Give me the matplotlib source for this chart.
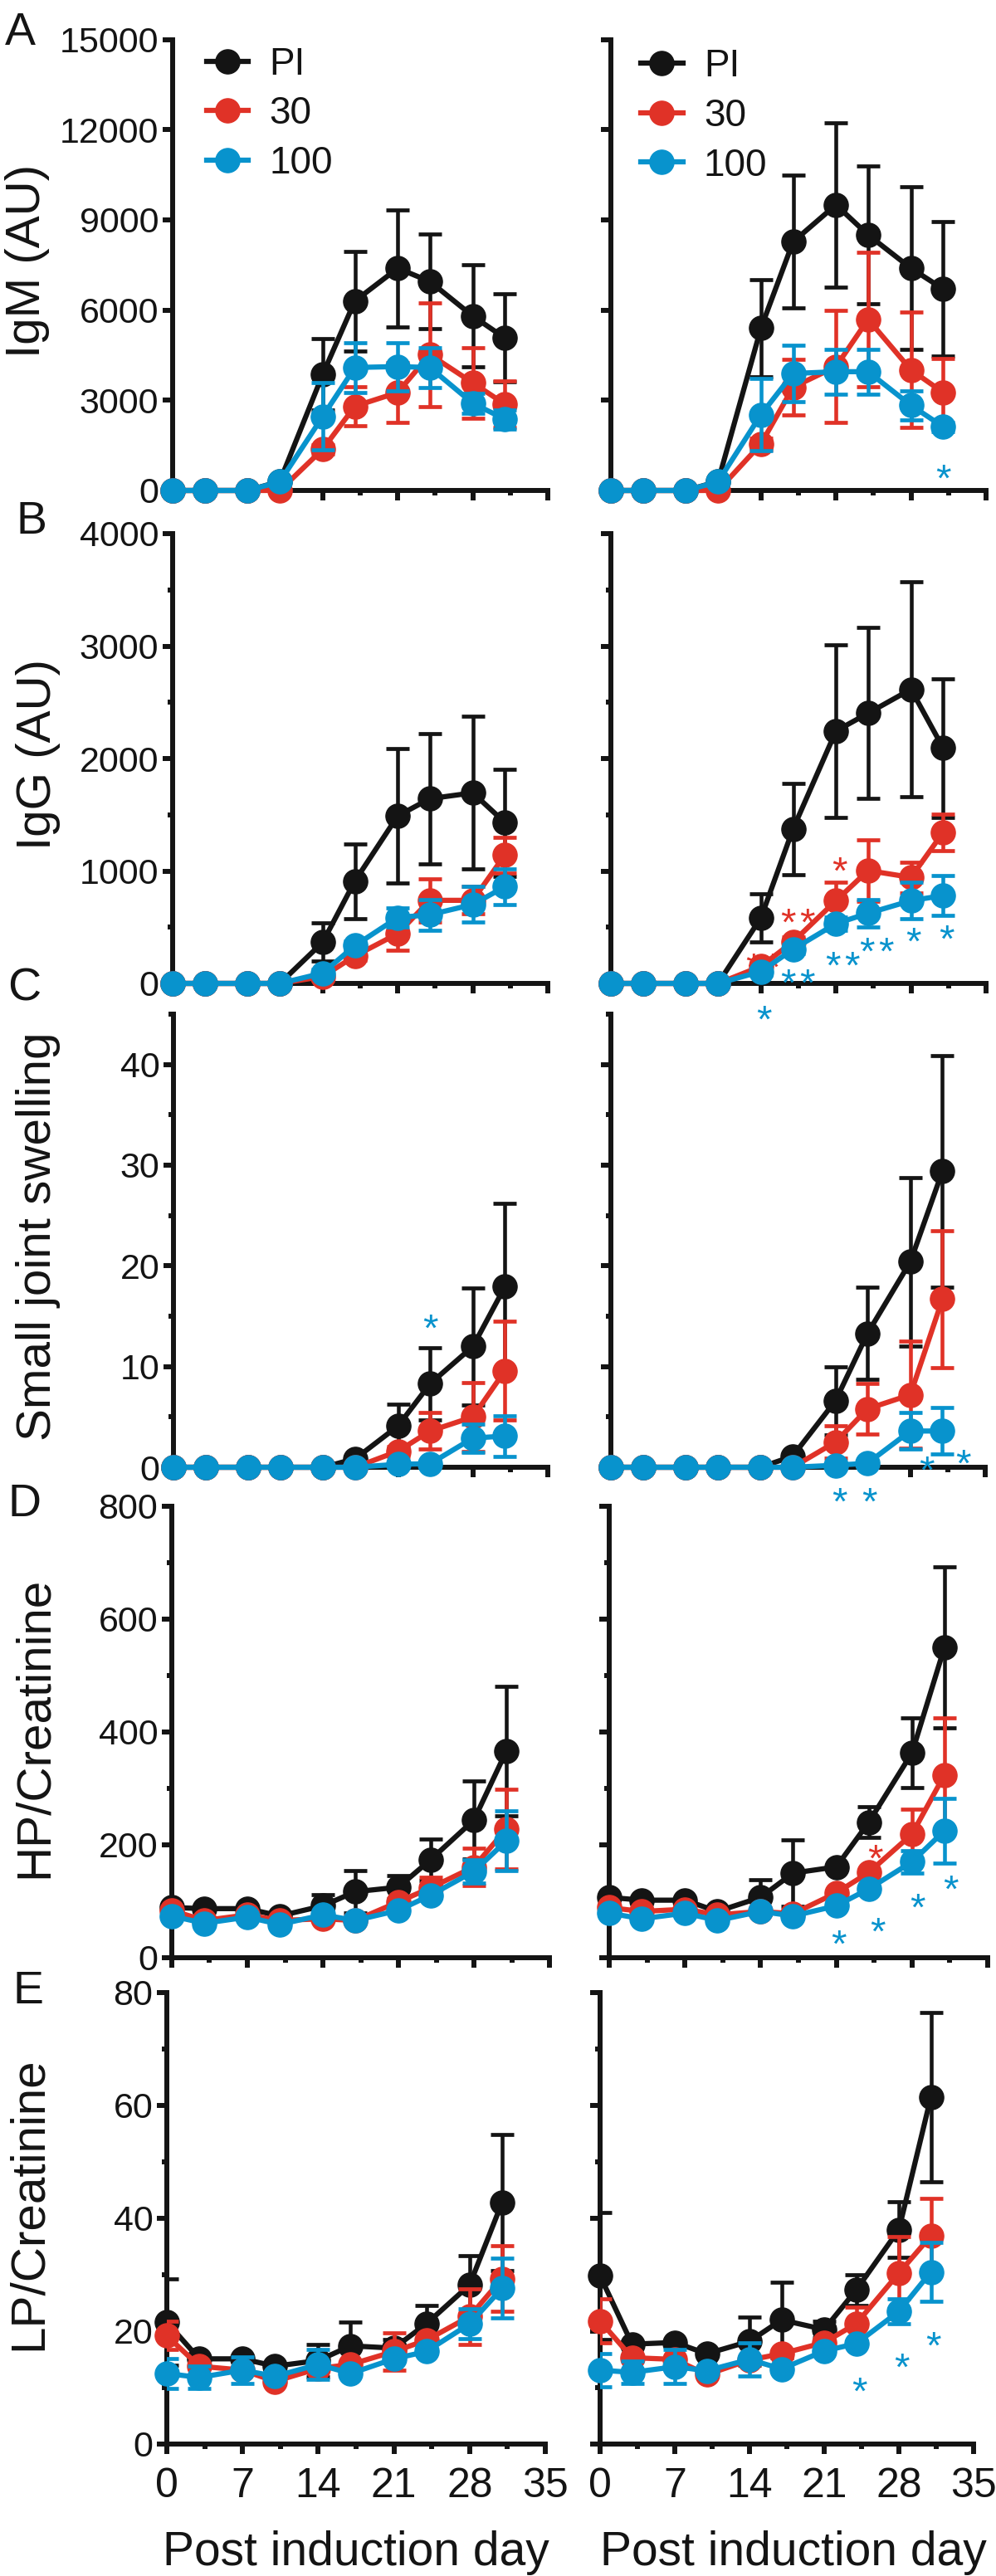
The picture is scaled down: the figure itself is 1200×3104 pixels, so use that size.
import numpy as np
import matplotlib.pyplot as plt
from matplotlib.ticker import MultipleLocator

plt.rcParams['font.family'] = ['Liberation Sans', 'DejaVu Sans']

ink = '#141414'
days = [0, 3, 7, 10, 14, 17, 21, 24, 28, 31]
groups = ['PI', '30', '100']
colors = [ink, '#E03227', '#0893CD']

# each list holds the PI, 30 and 100 series (mean, then SEM)
igm_left_mean = [[0, 0, 0, 300, 3860, 6300, 7390, 6950, 5800, 5070],
                 [0, 0, 0, 0, 1370, 2800, 3260, 4520, 3580, 2870],
                 [0, 0, 0, 290, 2460, 4090, 4120, 4090, 2900, 2370]]
igm_left_err = [[0, 0, 0, 0, 1180, 1660, 1940, 1580, 1700, 1460],
                [0, 0, 0, 0, 150, 640, 1000, 1720, 1170, 760],
                [0, 0, 0, 0, 1120, 830, 800, 660, 330, 320]]
igm_right_mean = [[0, 0, 0, 300, 5400, 8270, 9500, 8500, 7390, 6700],
                  [0, 0, 0, 0, 1545, 3435, 4120, 5690, 4010, 3260],
                  [0, 0, 0, 290, 2520, 3890, 3950, 3950, 2830, 2120]]
igm_right_err = [[0, 0, 0, 0, 1620, 2210, 2730, 2300, 2710, 2230],
                 [0, 0, 0, 0, 200, 915, 1870, 2230, 1910, 1130],
                 [0, 0, 0, 0, 1200, 950, 750, 750, 480, 150]]

igg_left_mean = [[0, 0, 0, 0, 366, 910, 1490, 1643, 1695, 1431],
                 [0, 0, 0, 0, 61, 244, 443, 739, 739, 1143],
                 [0, 0, 0, 0, 92, 336, 586, 611, 702, 860]]
igg_left_err = [[0, 0, 0, 0, 170, 333, 595, 580, 680, 476],
                [0, 0, 0, 0, 30, 40, 150, 192, 122, 158],
                [0, 0, 0, 0, 30, 40, 86, 137, 159, 158]]
igg_right_mean = [[0, 0, 0, 0, 584, 1375, 2245, 2403, 2616, 2093],
                  [0, 0, 0, 0, 152, 371, 736, 1004, 943, 1344],
                  [0, 0, 0, 0, 106, 304, 532, 624, 736, 782]]
igg_right_err = [[0, 0, 0, 0, 213, 405, 766, 760, 958, 614],
                 [0, 0, 0, 0, 30, 40, 167, 274, 137, 162],
                 [0, 0, 0, 0, 30, 40, 60, 121, 161, 176]]

swell_left_mean = [[0, 0, 0, 0, 0, 0.85, 4.1, 8.3, 12.0, 17.95],
                   [0, 0, 0, 0, 0, 0, 1.6, 3.6, 5.0, 9.6],
                   [0, 0, 0, 0, 0, 0, 0.3, 0.35, 2.9, 3.1]]
swell_left_err = [[0, 0, 0, 0, 0, 0, 2.2, 3.6, 5.8, 8.25],
                  [0, 0, 0, 0, 0, 0, 0.5, 1.8, 3.4, 4.9],
                  [0, 0, 0, 0, 0, 0, 0, 0, 1.4, 2.0]]
swell_right_mean = [[0, 0, 0, 0, 0, 1.1, 6.6, 13.3, 20.4, 29.4],
                    [0, 0, 0, 0, 0, 0, 2.5, 5.8, 7.2, 16.7],
                    [0, 0, 0, 0, 0, 0, 0.2, 0.4, 3.6, 3.6]]
swell_right_err = [[0, 0, 0, 0, 0, 0, 3.4, 4.6, 8.4, 11.5],
                   [0, 0, 0, 0, 0, 0, 1.6, 2.5, 5.3, 6.8],
                   [0, 0, 0, 0, 0, 0, 0, 0, 1.8, 2.3]]

hp_left_mean = [[89, 87, 87, 74, 92, 117, 125, 174, 244, 366],
                [84, 66, 76, 66, 69, 66, 99, 124, 161, 228],
                [74, 61, 72, 59, 76, 66, 84, 111, 153, 207]]
hp_left_err = [[0, 0, 0, 0, 20, 38, 20, 37, 69, 115],
               [0, 0, 0, 0, 0, 0, 0, 18, 33, 71],
               [0, 0, 0, 0, 0, 0, 0, 0, 21, 53]]
hp_right_mean = [[107, 102, 102, 82, 107, 150, 161, 240, 363, 550],
                 [89, 82, 86, 76, 82, 78, 115, 151, 219, 324],
                 [79, 69, 79, 66, 82, 74, 92, 122, 170, 225]]
hp_right_err = [[0, 0, 0, 0, 31, 59, 0, 27, 62, 143],
                [0, 0, 0, 0, 0, 0, 0, 0, 44, 101],
                [0, 0, 0, 0, 0, 0, 0, 0, 20, 57]]

lp_left_mean = [[21.6, 15.1, 15.1, 13.8, 14.8, 17.4, 17.0, 21.3, 28.2, 42.8],
                [19.2, 13.8, 13.1, 11.1, 13.4, 14.1, 16.4, 18.4, 22.6, 29.3],
                [12.5, 11.8, 13.1, 12.0, 14.1, 12.5, 15.1, 16.4, 21.3, 27.6]]
lp_left_err = [[7.6, 0, 0, 0, 2.9, 4.2, 1.5, 3.3, 5.2, 12.1],
               [2.5, 0, 0, 0, 0, 0, 3.3, 0, 4.9, 5.8],
               [2.6, 2.0, 2.4, 0, 2.6, 0, 0, 0, 2.6, 5.3]]
lp_right_mean = [[29.8, 17.7, 18.0, 16.0, 18.2, 22.0, 20.3, 27.3, 38.0, 61.5],
                 [21.8, 15.3, 15.0, 12.3, 14.9, 16.0, 18.0, 21.3, 30.3, 36.9],
                 [13.1, 12.7, 13.7, 13.0, 15.0, 13.3, 16.5, 17.8, 23.5, 30.5]]
lp_right_err = [[11.2, 0, 0, 0, 4.3, 6.7, 1.5, 2.7, 4.9, 15.0],
                [3.9, 0, 0, 0, 0, 0, 0, 3.0, 6.4, 6.6],
                [3.0, 2.0, 3.0, 0, 3.0, 0, 0, 0, 2.2, 5.2]]

# significance marks: (day, y, number of stars, group)
igm_right_stars = [(31, 700, 1, 2)]
igg_right_stars = [(14.2, 226, 2, 1), (14.3, -235, 1, 2), (17.4, 622, 2, 1),
                   (17.4, 85, 2, 2), (21.3, 1086, 1, 1), (21.6, 238, 2, 2),
                   (24.8, 368, 2, 2), (28.2, 453, 1, 2), (31.3, 481, 1, 2)]
swell_left_stars = [(24, 14.7, 1, 2)]
swell_right_stars = [(21.4, -2.5, 1, 2), (24.2, -2.5, 1, 2), (29.5, 0.6, 1, 2),
                     (32.9, 1.3, 1, 2)]
hp_right_stars = [(24.6, 192, 1, 1), (21.2, 40, 1, 2), (24.8, 63, 1, 2),
                  (28.5, 105, 1, 2), (31.6, 138, 1, 2)]
lp_right_stars = [(24.3, 11.0, 1, 2), (28.3, 15.3, 1, 2), (31.2, 19.0, 1, 2)]

W, H = 1200, 3104
fig = plt.figure(figsize=(W / 100, H / 100), dpi=100)


def add_ax(left, right, top, bottom):
    ax = fig.add_axes([left / W, 1 - bottom / H, (right - left) / W, (bottom - top) / H])
    ax.patch.set_visible(False)
    return ax


def draw_panel(ax, means, errs, ymax, major, minor, show_y, show_x, marks):
    for g in range(3):
        m = np.array(means[g], dtype=float)
        e = np.array(errs[g], dtype=float)
        d = np.array(days, dtype=float)
        k = e > 0
        if k.any():
            ax.errorbar(d[k], m[k], yerr=e[k], fmt='none', ecolor=colors[g],
                        elinewidth=3.3, capsize=10, capthick=3.4, zorder=3 + 2 * g)
        ax.plot(d, m, '-o', color=colors[g], lw=4.5, ms=21, zorder=4 + 2 * g,
                clip_on=False, label=groups[g])
    for day, y, n, g in marks:
        for i in range(n):
            ax.annotate('*', (day, y), xytext=((i - (n - 1) / 2) * 16.5, -19),
                        textcoords='offset points', ha='center', va='baseline',
                        fontsize=34, color=colors[g], annotation_clip=False)
    ax.set_xlim(0, 35)
    ax.set_ylim(0, ymax)
    for s in ['top', 'right']:
        ax.spines[s].set_visible(False)
    for s in ['left', 'bottom']:
        ax.spines[s].set_linewidth(4.3)
        ax.spines[s].set_color(ink)
    ax.xaxis.set_major_locator(MultipleLocator(7))
    ax.xaxis.set_minor_locator(MultipleLocator(3.5))
    ax.yaxis.set_major_locator(MultipleLocator(major))
    if minor:
        ax.yaxis.set_minor_locator(MultipleLocator(minor))
    ax.tick_params(which='major', direction='out', width=4.3, length=8.5, color=ink)
    ax.tick_params(which='minor', direction='out', width=4.3, length=4.5, color=ink)
    ax.tick_params(axis='y', labelsize=31, pad=3.5, labelleft=show_y, labelcolor=ink)
    ax.tick_params(axis='x', labelsize=36, pad=12, labelbottom=show_x, labelcolor=ink)


rows = [
    (47.5, 591, (208, 660), (736, 1188), igm_left_mean, igm_left_err, igm_right_mean,
     igm_right_err, 15000, 3000, None, [], igm_right_stars),
    (643, 1185, (208, 660), (736, 1188), igg_left_mean, igg_left_err, igg_right_mean,
     igg_right_err, 4000, 1000, 500, [], igg_right_stars),
    (1222, 1768, (209, 660), (736, 1187), swell_left_mean, swell_left_err, swell_right_mean,
     swell_right_err, 45, 10, 5, swell_left_stars, swell_right_stars),
    (1815, 2359, (207, 662), (734, 1190), hp_left_mean, hp_left_err, hp_right_mean,
     hp_right_err, 800, 200, 100, [], hp_right_stars),
    (2401, 2945, (201, 657), (723, 1173), lp_left_mean, lp_left_err, lp_right_mean,
     lp_right_err, 80, 20, 10, [], lp_right_stars),
]

axes = []
for r, (top, bot, lcol, rcol, lm, le, rm, re_, ymax, major, minor, lst, rst) in enumerate(rows):
    last = r == len(rows) - 1
    axl = add_ax(lcol[0], lcol[1], top, bot)
    draw_panel(axl, lm, le, ymax, major, minor, True, last, lst)
    axr = add_ax(rcol[0], rcol[1], top, bot)
    draw_panel(axr, rm, re_, ymax, major, minor, False, last, rst)
    axes.append((axl, axr))

# legends in the top row
for ax, x0, y0 in [(axes[0][0], 0.09, 0.985), (axes[0][1], 0.08, 0.98)]:
    ax.legend(loc='upper left', bbox_to_anchor=(x0, y0), frameon=False, fontsize=33,
              handlelength=1.1, handletextpad=0.55, labelspacing=0.34,
              borderpad=0, borderaxespad=0, labelcolor=ink)

# y labels
ylabels = [('IgM (AU)', 60, 314), ('IgG (AU)', 73, 909), ('Small joint swelling', 73, 1490),
           ('HP/Creatinine', 69, 2081), ('LP/Creatinine', 62, 2655)]
for text, xr, yc in ylabels:
    fig.text(xr / W, 1 - yc / H, text, rotation=90, ha='right', va='center',
             fontsize=42, color=ink)

# panel letters
for letter, x, y in [('A', 6, 14), ('B', 20, 603), ('C', 9, 1166), ('D', 9, 1787), ('E', 15, 2374)]:
    fig.text(x / W, 1 - y / H, letter, ha='left', va='top', fontsize=40, color=ink)

for cx in [429, 956]:
    fig.text(cx / W, 1 - 3091 / H, 'Post induction day', ha='center', va='baseline',
             fontsize=41, color=ink)

fig.savefig('out.png', dpi=100)
